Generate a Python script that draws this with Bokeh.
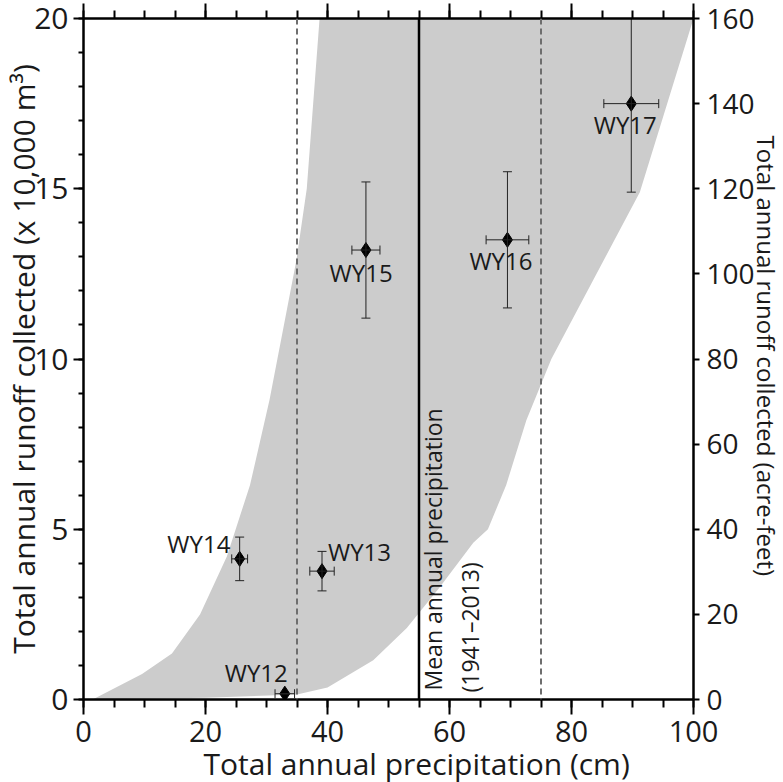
import math
from bokeh.plotting import figure
from bokeh.models import (Range1d, LinearAxis, SingleIntervalTicker, ColumnDataSource,
                          Whisker, TeeHead, Label, Span, Title)
from bokeh.core.properties import value, field
from bokeh.embed import file_html
from bokeh.resources import INLINE

# ---------------- data ----------------
years = ["WY12", "WY13", "WY14", "WY15", "WY16", "WY17"]
precip = [33.0, 39.1, 25.6, 46.3, 69.5, 89.8]          # cm
precip_err = [1.6, 2.0, 1.3, 2.3, 3.5, 4.5]
runoff = [0.17, 3.77, 4.13, 13.2, 13.5, 17.5]          # x 10,000 m3
runoff_err = [0.0, 0.58, 0.64, 2.0, 2.0, 2.6]

# envelope of expected runoff (shaded band)
band_upper_x = [1.5, 9.6, 14.5, 19.1, 23.5, 27.3, 30.5, 34.9, 36.6, 38.7]
band_upper_y = [0.0, 0.75, 1.35, 2.5, 4.2, 6.3, 8.8, 12.9, 15.0, 20.0]
band_lower_x = [1.5, 20.0, 35.0, 40.0, 47.5, 53.0, 58.4, 63.9, 66.3, 69.3, 72.6, 76.7, 91.2, 100.0]
band_lower_y = [0.0, 0.05, 0.15, 0.35, 1.15, 2.1, 3.3, 4.6, 5.0, 6.3, 8.2, 10.0, 14.9, 20.0]

mean_precip = 55.0
mean_minus = 35.0
mean_plus = 75.0

x_ticks_major = 20
y_ticks_major = 5
af_ticks_major = 20

# ---------------- layout / styling ----------------
FRAME_W, FRAME_H = 610, 681
X0, X1, Y0, Y1 = 0, 100, 0, 20
px_per_x = FRAME_W / (X1 - X0)
px_per_y = FRAME_H / (Y1 - Y0)

# point-label placement, in screen pixels relative to the point (+x right, +y down)
label_dx = [3, 6, -9.3, -4.8, -6.5, -6]
label_dy = [-21.5, -20, -15.8, 22.4, 21, 21]
label_align = ["right", "left", "right", "center", "center", "center"]

FONT = "Open Sans"
TXT = "#1a1a1a"

p = figure(frame_width=FRAME_W, frame_height=FRAME_H, output_backend="svg", toolbar_location=None,
           x_range=Range1d(X0, X1), y_range=Range1d(Y0, Y1),
           x_axis_type=None, y_axis_type=None,
           min_border_left=77, min_border_right=96, min_border_top=18, min_border_bottom=83)
p.outline_line_color = None
p.grid.visible = False
p.background_fill_color = "white"
p.border_fill_color = "white"
p.extra_y_ranges = {"af": Range1d(0, 160)}

# shaded band
bx = band_upper_x + [X1] + band_lower_x[::-1]
by = band_upper_y + [Y1] + band_lower_y[::-1]
p.patch(bx, by, fill_color="#cccccc", line_color=None)

# reference lines
p.add_layout(Span(location=mean_minus, dimension="height", line_color="#6e6e6e",
                  line_width=2, line_dash="6 4"))
p.add_layout(Span(location=mean_plus, dimension="height", line_color="#6e6e6e",
                  line_width=2, line_dash="6 4"))
p.add_layout(Span(location=mean_precip, dimension="height", line_color="black",
                  line_width=2.5))

src = ColumnDataSource(dict(
    x=precip, y=runoff,
    xl=[a - b for a, b in zip(precip, precip_err)],
    xu=[a + b for a, b in zip(precip, precip_err)],
    yl=[a - b for a, b in zip(runoff, runoff_err)],
    yu=[min(a + b, Y1) for a, b in zip(runoff, runoff_err)],
    label=years,
    lx=[a + d / px_per_x for a, d in zip(precip, label_dx)],
    ly=[a - d / px_per_y for a, d in zip(runoff, label_dy)],
    align=label_align,
))

ecol = "#222222"
p.add_layout(Whisker(source=src, base="x", lower="yl", upper="yu", dimension="height",
                     line_color=ecol, line_width=1, level="glyph",
                     upper_head=TeeHead(size=9, line_color=ecol, line_width=1),
                     lower_head=TeeHead(size=9, line_color=ecol, line_width=1)))
p.add_layout(Whisker(source=src, base="y", lower="xl", upper="xu", dimension="width",
                     line_color=ecol, line_width=1, level="glyph",
                     upper_head=TeeHead(size=9, line_color=ecol, line_width=1),
                     lower_head=TeeHead(size=9, line_color=ecol, line_width=1)))

p.scatter(x="x", y="y", source=src, marker="diamond", size=15,
          fill_color="black", line_color="black")

p.text(x="lx", y="ly", text="label", source=src,
       text_align=field("align"), text_baseline="middle",
       text_font=value(FONT), text_font_size="24px", text_color=TXT)

# mean label (rotated)
p.add_layout(Label(x=mean_precip, y=Y0, text="Mean annual precipitation", angle=math.pi / 2,
                   text_align="left", text_baseline="middle", x_offset=14, y_offset=9,
                   text_font=FONT, text_font_size="23px", text_color=TXT))
p.add_layout(Label(x=mean_precip, y=Y0, text="(1941\u20132013)", angle=math.pi / 2,
                   text_align="left", text_baseline="middle", x_offset=51, y_offset=7,
                   text_font=FONT, text_font_size="23px", text_color=TXT))

# axes
def style(ax, major_out, minor_out, fs):
    ax.axis_line_width = 2.5
    ax.axis_line_color = "black"
    ax.major_tick_line_width = 2
    ax.minor_tick_line_width = 2
    ax.major_tick_line_color = "black"
    ax.minor_tick_line_color = "black"
    ax.major_tick_in = 0
    ax.minor_tick_in = 0
    ax.major_tick_out = major_out
    ax.minor_tick_out = minor_out
    ax.major_label_text_font = FONT
    ax.major_label_text_font_size = fs
    ax.major_label_text_color = TXT
    ax.axis_label_text_font = FONT
    ax.axis_label_text_font_style = "normal"
    ax.axis_label_text_color = TXT

xb = LinearAxis(ticker=SingleIntervalTicker(interval=x_ticks_major, num_minor_ticks=4))
style(xb, 15, 8, "29px")
xb.major_label_standoff = 6
p.add_layout(xb, "below")

p.add_layout(Title(text="Total annual precipitation (cm)", align="left", offset=120,
                   standoff=-7, text_font=FONT, text_font_size="30px",
                   text_font_style="normal", text_color=TXT), "below")

xt = LinearAxis(ticker=SingleIntervalTicker(interval=x_ticks_major, num_minor_ticks=4))
style(xt, 15, 8, "0px")
xt.major_label_standoff = 0
xt.major_label_text_alpha = 0
p.add_layout(xt, "above")

yl = LinearAxis(ticker=SingleIntervalTicker(interval=y_ticks_major, num_minor_ticks=5))
style(yl, 10, 5, "30px")
yl.major_label_standoff = 5
yl.axis_label = "Total annual runoff collected (x 10,000 m\u00b3)"
yl.axis_label_text_font_size = "30px"
yl.axis_label_standoff = -13
p.add_layout(yl, "left")

yr = LinearAxis(y_range_name="af", ticker=SingleIntervalTicker(interval=af_ticks_major, num_minor_ticks=0))
style(yr, 6, 0, "28px")
yr.major_label_standoff = 7
yr.axis_label = "Total annual runoff  collected (acre-feet)"
yr.axis_label_text_font_size = "24px"
yr.axis_label_standoff = -8
p.add_layout(yr, "right")

open("out.html", "w").write(file_html(p, INLINE))
